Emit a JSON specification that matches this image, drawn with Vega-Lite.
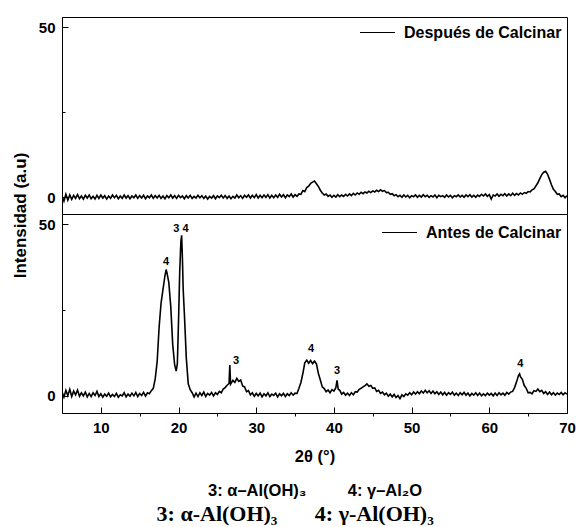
{
"$schema": "https://vega.github.io/schema/vega-lite/v6.json",
"padding": {"left": 10, "top": 13, "right": 5, "bottom": 0},
"bounds": "flush",
"spacing": 0,
"title": {"text": "3: α-Al(OH)₃\u2003\u2002\u20094: γ-Al(OH)₃", "orient": "bottom", "anchor": "middle", "dx": 2, "font": "Liberation Serif", "fontSize": 22, "fontWeight": "bold", "color": "black", "offset": 5},
"datasets": {
"after": [
{"x":5,"y":0.4},{"x":5.25,"y":-1.2},{"x":5.5,"y":0.8},{"x":5.75,"y":-0.9},{"x":6,"y":0.6},{"x":6.25,"y":-0.7},{"x":6.5,"y":0.5},{"x":6.75,"y":-0.4},{"x":7,"y":0.7},{"x":7.25,"y":-0.5},{"x":7.5,"y":0.3},{"x":7.75,"y":-0.6},{"x":8,"y":0.5},{"x":8.25,"y":-0.3},{"x":8.5,"y":0.6},{"x":8.75,"y":-0.5},{"x":9,"y":0.2},{"x":9.25,"y":-0.6},{"x":9.5,"y":0.5},{"x":9.75,"y":-0.4},
{"x":10,"y":0.6},{"x":10.25,"y":-0.3},{"x":10.5,"y":0.4},{"x":10.75,"y":-0.6},{"x":11,"y":0.3},{"x":11.25,"y":-0.4},{"x":11.5,"y":0.6},{"x":11.75,"y":-0.2},{"x":12,"y":0.5},{"x":12.25,"y":-0.5},{"x":12.5,"y":0.3},{"x":12.75,"y":-0.4},{"x":13,"y":0.6},{"x":13.25,"y":-0.3},{"x":13.5,"y":0.4},{"x":13.75,"y":-0.5},{"x":14,"y":0.3},{"x":14.25,"y":-0.2},{"x":14.5,"y":0.6},{"x":14.75,"y":-0.4},
{"x":15,"y":0.4},{"x":15.25,"y":-0.3},{"x":15.5,"y":0.5},{"x":15.75,"y":-0.5},{"x":16,"y":0.3},{"x":16.25,"y":-0.2},{"x":16.5,"y":0.6},{"x":16.75,"y":-0.4},{"x":17,"y":0.4},{"x":17.25,"y":-0.3},{"x":17.5,"y":0.5},{"x":17.75,"y":-0.4},{"x":18,"y":0.3},{"x":18.25,"y":-0.5},{"x":18.5,"y":0.4},{"x":18.75,"y":-0.2},{"x":19,"y":0.6},{"x":19.25,"y":-0.3},{"x":19.5,"y":0.4},{"x":19.75,"y":-0.4},
{"x":20,"y":0.5},{"x":20.25,"y":-0.2},{"x":20.5,"y":0.3},{"x":20.75,"y":-0.5},{"x":21,"y":0.4},{"x":21.25,"y":-0.3},{"x":21.5,"y":0.5},{"x":21.75,"y":-0.4},{"x":22,"y":0.2},{"x":22.25,"y":-0.3},{"x":22.5,"y":0.5},{"x":22.75,"y":-0.2},{"x":23,"y":0.4},{"x":23.25,"y":-0.4},{"x":23.5,"y":0.3},{"x":23.75,"y":-0.6},{"x":24,"y":0.2},{"x":24.25,"y":-0.3},{"x":24.5,"y":0.4},{"x":24.75,"y":-0.5},
{"x":25,"y":0.3},{"x":25.25,"y":-0.2},{"x":25.5,"y":0.5},{"x":25.75,"y":-0.3},{"x":26,"y":0.4},{"x":26.25,"y":-0.4},{"x":26.5,"y":0.3},{"x":26.75,"y":-0.5},{"x":27,"y":0.2},{"x":27.25,"y":-0.3},{"x":27.5,"y":0.6},{"x":27.75,"y":-0.2},{"x":28,"y":0.4},{"x":28.25,"y":-0.4},{"x":28.5,"y":0.5},{"x":28.75,"y":-0.1},{"x":29,"y":0.6},{"x":29.25,"y":-0.3},{"x":29.5,"y":0.5},{"x":29.75,"y":-0.2},
{"x":30,"y":0.7},{"x":30.25,"y":-0.3},{"x":30.5,"y":0.5},{"x":30.75,"y":-0.2},{"x":31,"y":0.6},{"x":31.25,"y":-0.1},{"x":31.5,"y":0.7},{"x":31.75,"y":-0.3},{"x":32,"y":0.5},{"x":32.25,"y":-0.2},{"x":32.5,"y":0.6},{"x":32.75,"y":-0.1},{"x":33,"y":0.8},{"x":33.25,"y":0},{"x":33.5,"y":0.7},{"x":33.75,"y":-0.2},{"x":34,"y":0.6},{"x":34.25,"y":0.1},{"x":34.5,"y":0.9},{"x":34.75,"y":0},
{"x":35,"y":0.7},{"x":35.25,"y":0.2},{"x":35.5,"y":0.9},{"x":35.75,"y":0.8},{"x":36,"y":1.9},{"x":36.25,"y":1.6},{"x":36.5,"y":2.8},{"x":36.75,"y":3.2},{"x":37,"y":4},{"x":37.25,"y":4.4},{"x":37.5,"y":4.7},{"x":37.75,"y":3.9},{"x":38,"y":3.1},{"x":38.25,"y":2},{"x":38.5,"y":1.2},{"x":38.75,"y":0.6},{"x":39,"y":0.9},{"x":39.25,"y":0.2},{"x":39.5,"y":0.6},{"x":39.75,"y":-0.1},
{"x":40,"y":0.5},{"x":40.25,"y":0},{"x":40.5,"y":0.7},{"x":40.75,"y":0.1},{"x":41,"y":0.6},{"x":41.25,"y":0.2},{"x":41.5,"y":0.8},{"x":41.75,"y":0.3},{"x":42,"y":0.9},{"x":42.25,"y":0.4},{"x":42.5,"y":1.1},{"x":42.75,"y":0.6},{"x":43,"y":1.2},{"x":43.25,"y":0.8},{"x":43.5,"y":1.4},{"x":43.75,"y":1},{"x":44,"y":1.5},{"x":44.25,"y":1.2},{"x":44.5,"y":1.7},{"x":44.75,"y":1.3},
{"x":45,"y":1.8},{"x":45.25,"y":1.5},{"x":45.5,"y":2},{"x":45.75,"y":1.6},{"x":46,"y":2.1},{"x":46.25,"y":1.7},{"x":46.5,"y":1.9},{"x":46.75,"y":1.3},{"x":47,"y":1.4},{"x":47.25,"y":0.8},{"x":47.5,"y":1},{"x":47.75,"y":0.4},{"x":48,"y":0.7},{"x":48.25,"y":0.1},{"x":48.5,"y":0.5},{"x":48.75,"y":-0.1},{"x":49,"y":0.6},{"x":49.25,"y":0},{"x":49.5,"y":0.5},{"x":49.75,"y":-0.2},
{"x":50,"y":0.4},{"x":50.25,"y":0.1},{"x":50.5,"y":0.6},{"x":50.75,"y":-0.1},{"x":51,"y":0.5},{"x":51.25,"y":0},{"x":51.5,"y":0.7},{"x":51.75,"y":0.1},{"x":52,"y":0.5},{"x":52.25,"y":-0.1},{"x":52.5,"y":0.4},{"x":52.75,"y":0},{"x":53,"y":0.6},{"x":53.25,"y":-0.2},{"x":53.5,"y":0.5},{"x":53.75,"y":0.1},{"x":54,"y":0.4},{"x":54.25,"y":-0.1},{"x":54.5,"y":0.6},{"x":54.75,"y":0},
{"x":55,"y":0.5},{"x":55.25,"y":-0.2},{"x":55.5,"y":0.4},{"x":55.75,"y":0.1},{"x":56,"y":0.6},{"x":56.25,"y":0},{"x":56.5,"y":0.5},{"x":56.75,"y":-0.1},{"x":57,"y":0.6},{"x":57.25,"y":0.1},{"x":57.5,"y":0.7},{"x":57.75,"y":0},{"x":58,"y":0.5},{"x":58.25,"y":-0.1},{"x":58.5,"y":0.6},{"x":58.75,"y":0.2},{"x":59,"y":0.8},{"x":59.25,"y":0.3},{"x":59.5,"y":0.9},{"x":59.75,"y":0.2},
{"x":60,"y":0.7},{"x":60.25,"y":-0.6},{"x":60.5,"y":0.6},{"x":60.75,"y":0.3},{"x":61,"y":0.9},{"x":61.25,"y":0.2},{"x":61.5,"y":0.8},{"x":61.75,"y":0.4},{"x":62,"y":1},{"x":62.25,"y":0.3},{"x":62.5,"y":0.9},{"x":62.75,"y":0.4},{"x":63,"y":1.1},{"x":63.25,"y":0.5},{"x":63.5,"y":1},{"x":63.75,"y":0.6},{"x":64,"y":1.2},{"x":64.25,"y":0.8},{"x":64.5,"y":1.3},{"x":64.75,"y":1.1},
{"x":65,"y":1.6},{"x":65.25,"y":1.5},{"x":65.5,"y":2.1},{"x":65.75,"y":2.4},{"x":66,"y":3.3},{"x":66.25,"y":4.2},{"x":66.5,"y":5.4},{"x":66.75,"y":6.6},{"x":67,"y":7.3},{"x":67.25,"y":7.6},{"x":67.5,"y":6.7},{"x":67.75,"y":5.2},{"x":68,"y":3.6},{"x":68.25,"y":2.3},{"x":68.5,"y":1.6},{"x":68.75,"y":0.8},{"x":69,"y":0.9},{"x":69.25,"y":0.1},{"x":69.5,"y":0.5},{"x":69.75,"y":-0.2},{"x":70,"y":0.4}
],
"before": [
{"x":5,"y":1.2},{"x":5.25,"y":-0.4},{"x":5.5,"y":1.6},{"x":5.75,"y":0.1},{"x":6,"y":1.9},{"x":6.25,"y":-0.2},{"x":6.5,"y":1.4},{"x":6.75,"y":0.3},{"x":7,"y":1.7},{"x":7.25,"y":-0.1},{"x":7.5,"y":0.9},{"x":7.75,"y":0},{"x":8,"y":1.1},{"x":8.25,"y":-0.3},{"x":8.5,"y":0.7},{"x":8.75,"y":-0.2},{"x":9,"y":0.9},{"x":9.25,"y":0.1},{"x":9.5,"y":1.3},{"x":9.75,"y":-0.2},
{"x":10,"y":0.6},{"x":10.25,"y":-0.4},{"x":10.5,"y":0.5},{"x":10.75,"y":-0.1},{"x":11,"y":0.8},{"x":11.25,"y":-0.3},{"x":11.5,"y":0.4},{"x":11.75,"y":-0.2},{"x":12,"y":0.7},{"x":12.25,"y":-0.4},{"x":12.5,"y":0.3},{"x":12.75,"y":0},{"x":13,"y":0.9},{"x":13.25,"y":-0.3},{"x":13.5,"y":0.5},{"x":13.75,"y":-0.1},{"x":14,"y":0.8},{"x":14.25,"y":0},{"x":14.5,"y":1},{"x":14.75,"y":-0.2},
{"x":15,"y":0.7},{"x":15.25,"y":0.1},{"x":15.5,"y":1},{"x":15.75,"y":-0.1},{"x":16,"y":0.9},{"x":16.25,"y":0.6},{"x":16.5,"y":1.5},{"x":16.75,"y":2.2},{"x":17,"y":5},{"x":17.25,"y":10},{"x":17.5,"y":20},{"x":17.75,"y":27},{"x":18,"y":31},{"x":18.25,"y":35},{"x":18.4,"y":36.8},{"x":18.5,"y":36},{"x":18.75,"y":33},{"x":19,"y":26},{"x":19.25,"y":15},{"x":19.5,"y":9},{"x":19.7,"y":7.2},{"x":19.85,"y":9.5},
{"x":20,"y":22},{"x":20.15,"y":36},{"x":20.3,"y":45},{"x":20.4,"y":46.8},{"x":20.5,"y":40},{"x":20.6,"y":31},{"x":20.75,"y":24},{"x":21,"y":11},{"x":21.25,"y":3.5},{"x":21.5,"y":1.8},{"x":21.75,"y":0.9},{"x":22,"y":-0.3},{"x":22.25,"y":0.8},{"x":22.5,"y":-0.2},{"x":22.75,"y":0.9},{"x":23,"y":0.1},{"x":23.25,"y":1.1},{"x":23.5,"y":-0.2},{"x":23.75,"y":0.7},{"x":24,"y":0.2},{"x":24.25,"y":1},{"x":24.5,"y":0},{"x":24.75,"y":0.9},
{"x":25,"y":0.4},{"x":25.25,"y":1.3},{"x":25.5,"y":0.9},{"x":25.75,"y":2},{"x":26,"y":2.4},{"x":26.25,"y":3.1},{"x":26.5,"y":3.6},{"x":26.6,"y":9},{"x":26.7,"y":3.4},{"x":27,"y":4.5},{"x":27.25,"y":3.9},{"x":27.5,"y":5.1},{"x":27.75,"y":4.2},{"x":28,"y":4.6},{"x":28.25,"y":2.9},{"x":28.5,"y":2.6},{"x":28.75,"y":1.2},{"x":29,"y":1.5},{"x":29.25,"y":0.3},{"x":29.5,"y":0.9},{"x":29.75,"y":-0.1},
{"x":30,"y":0.7},{"x":30.25,"y":0},{"x":30.5,"y":0.8},{"x":30.75,"y":-0.3},{"x":31,"y":0.6},{"x":31.25,"y":0},{"x":31.5,"y":0.9},{"x":31.75,"y":-0.2},{"x":32,"y":0.5},{"x":32.25,"y":0.1},{"x":32.5,"y":0.8},{"x":32.75,"y":-0.3},{"x":33,"y":0.6},{"x":33.25,"y":0},{"x":33.5,"y":0.7},{"x":33.75,"y":-0.2},{"x":34,"y":0.6},{"x":34.25,"y":0.1},{"x":34.5,"y":0.9},{"x":34.75,"y":0.2},
{"x":35,"y":0.8},{"x":35.25,"y":0.7},{"x":35.5,"y":2.2},{"x":35.75,"y":3.9},{"x":36,"y":6.5},{"x":36.25,"y":9.6},{"x":36.5,"y":10.4},{"x":36.75,"y":9.5},{"x":37,"y":10.3},{"x":37.25,"y":9.4},{"x":37.5,"y":10.1},{"x":37.75,"y":9.3},{"x":38,"y":6.5},{"x":38.25,"y":4.6},{"x":38.5,"y":2.6},{"x":38.75,"y":2.1},{"x":39,"y":1.2},{"x":39.25,"y":1.7},{"x":39.5,"y":0.9},{"x":39.75,"y":1.8},
{"x":40,"y":1.4},{"x":40.25,"y":2.4},{"x":40.4,"y":4.5},{"x":40.55,"y":2},{"x":40.75,"y":1.6},{"x":41,"y":0.5},{"x":41.25,"y":1},{"x":41.5,"y":0.2},{"x":41.75,"y":0.8},{"x":42,"y":0.1},{"x":42.25,"y":0.9},{"x":42.5,"y":0.3},{"x":42.75,"y":1.2},{"x":43,"y":1.1},{"x":43.25,"y":1.9},{"x":43.5,"y":2.2},{"x":43.75,"y":2.6},{"x":44,"y":3},{"x":44.25,"y":3.5},{"x":44.5,"y":2.8},{"x":44.75,"y":3},
{"x":45,"y":2.2},{"x":45.25,"y":2.3},{"x":45.5,"y":1.3},{"x":45.75,"y":1.6},{"x":46,"y":0.7},{"x":46.25,"y":1.1},{"x":46.5,"y":0.3},{"x":46.75,"y":0.8},{"x":47,"y":-0.1},{"x":47.25,"y":0.5},{"x":47.5,"y":-0.3},{"x":47.75,"y":0.4},{"x":48,"y":-0.5},{"x":48.25,"y":0.1},{"x":48.5,"y":-0.8},{"x":48.75,"y":0.3},{"x":49,"y":-0.2},{"x":49.25,"y":0.6},{"x":49.5,"y":0.2},{"x":49.75,"y":0.9},
{"x":50,"y":0.3},{"x":50.25,"y":1.1},{"x":50.5,"y":0.5},{"x":50.75,"y":1.2},{"x":51,"y":0.6},{"x":51.25,"y":1.4},{"x":51.5,"y":0.8},{"x":51.75,"y":1.6},{"x":52,"y":0.9},{"x":52.25,"y":1.5},{"x":52.5,"y":0.7},{"x":52.75,"y":1.4},{"x":53,"y":0.6},{"x":53.25,"y":1.2},{"x":53.5,"y":0.4},{"x":53.75,"y":1.1},{"x":54,"y":0.3},{"x":54.25,"y":1},{"x":54.5,"y":0.2},{"x":54.75,"y":0.9},
{"x":55,"y":0.4},{"x":55.25,"y":1.1},{"x":55.5,"y":0.2},{"x":55.75,"y":0.8},{"x":56,"y":0.1},{"x":56.25,"y":0.9},{"x":56.5,"y":0.3},{"x":56.75,"y":1},{"x":57,"y":0.2},{"x":57.25,"y":0.8},{"x":57.5,"y":0},{"x":57.75,"y":0.7},{"x":58,"y":0.2},{"x":58.25,"y":0.9},{"x":58.5,"y":0.1},{"x":58.75,"y":0.8},{"x":59,"y":0},{"x":59.25,"y":0.6},{"x":59.5,"y":0.1},{"x":59.75,"y":0.8},
{"x":60,"y":0.2},{"x":60.25,"y":0.7},{"x":60.5,"y":0},{"x":60.75,"y":0.8},{"x":61,"y":0.1},{"x":61.25,"y":0.9},{"x":61.5,"y":0.3},{"x":61.75,"y":0.8},{"x":62,"y":0.2},{"x":62.25,"y":1},{"x":62.5,"y":0.5},{"x":62.75,"y":1.1},{"x":63,"y":1.3},{"x":63.25,"y":2.4},{"x":63.5,"y":4},{"x":63.75,"y":5.9},{"x":63.9,"y":6.4},{"x":64,"y":5.6},{"x":64.25,"y":4.8},{"x":64.5,"y":3},{"x":64.75,"y":2.2},
{"x":65,"y":0.9},{"x":65.25,"y":1},{"x":65.5,"y":0.6},{"x":65.75,"y":1.5},{"x":66,"y":1.3},{"x":66.25,"y":2},{"x":66.5,"y":1.2},{"x":66.75,"y":1.6},{"x":67,"y":0.7},{"x":67.25,"y":1.2},{"x":67.5,"y":0.4},{"x":67.75,"y":1.1},{"x":68,"y":0.3},{"x":68.25,"y":0.9},{"x":68.5,"y":0.2},{"x":68.75,"y":0.8},{"x":69,"y":0.4},{"x":69.25,"y":1},{"x":69.5,"y":0.3},{"x":69.75,"y":0.9},{"x":70,"y":0.5}
],
"peaks": [
{"x":18.4,"y":39,"t":"4"},{"x":20.3,"y":48.5,"t":"3 4"},{"x":27.4,"y":10.2,"t":"3"},{"x":37.05,"y":13.6,"t":"4"},{"x":40.4,"y":7.3,"t":"3"},{"x":63.98,"y":9.3,"t":"4"}
]
},
"vconcat": [
{
"width": 505, "height": 197,
"data": {"name": "after"},
"mark": {"type": "line", "strokeWidth": 1.6, "clip": true},
"encoding": {
"x": {"field": "x", "type": "quantitative", "scale": {"domain": [5, 70], "nice": false, "zero": false}, "axis": null},
"y": {"field": "y", "type": "quantitative", "scale": {"domain": [-5, 53], "nice": false, "zero": false},
"axis": {"values": [0, 25, 50], "labelExpr": "datum.value === 25 ? '' : datum.label", "title": "Intensidad (a.u)", "titleOpacity": 0,
"tickSize": {"condition": {"test": "datum.value === 25", "value": -3}, "value": -6}, "labelPadding": 13}},
"color": {"datum": "Después de Calcinar", "type": "nominal", "scale": {"range": ["black"]},
"legend": {"title": null, "orient": "none", "legendX": 297, "legendY": -3, "symbolType": "stroke", "symbolSize": 1225, "symbolStrokeWidth": 1.2, "labelFontSize": 16, "labelFontWeight": "bold", "labelFont": "Liberation Sans", "labelColor": "black", "labelOffset": 8, "padding": 0}}
}
},
{
"width": 505, "height": 199,
"layer": [
{
"data": {"name": "before"},
"mark": {"type": "line", "strokeWidth": 1.6, "clip": true},
"encoding": {
"x": {"field": "x", "type": "quantitative", "scale": {"domain": [5, 70], "nice": false, "zero": false},
"axis": {"values": [10, 15, 20, 25, 30, 35, 40, 45, 50, 55, 60, 65, 70], "labelExpr": "datum.value % 10 === 0 ? datum.label : ''", "labelFlush": false, "labelOverlap": false,
"tickSize": {"condition": {"test": "datum.value % 10 === 0", "value": -6}, "value": 3}, "labelPadding": 13,
"title": ["2θ (°)", "3: α–Al(OH)₃\u2003\u2003\u20024: γ–Al₂O"], "titleFontSize": 16.5, "titleLineHeight": 34, "titlePadding": 4}},
"y": {"field": "y", "type": "quantitative", "scale": {"domain": [-5, 53], "nice": false, "zero": false},
"axis": {"values": [0, 25, 50], "labelExpr": "datum.value === 25 ? '' : datum.label", "title": "Intensidad (a.u)", "titleFontSize": 17, "titleY": 1, "titleX": -33,
"tickSize": {"condition": {"test": "datum.value === 25", "value": -3}, "value": -6}, "labelPadding": 13}},
"color": {"datum": "Antes de Calcinar", "type": "nominal", "scale": {"range": ["black"]},
"legend": {"title": null, "orient": "none", "legendX": 319, "legendY": 0, "symbolType": "stroke", "symbolSize": 1225, "symbolStrokeWidth": 1.2, "labelFontSize": 16, "labelFontWeight": "bold", "labelFont": "Liberation Sans", "labelColor": "black", "labelOffset": 8, "padding": 0}}
}
},
{
"data": {"name": "peaks"},
"mark": {"type": "text", "fontSize": 11, "fontWeight": "bold", "font": "Liberation Sans", "color": "black", "baseline": "middle"},
"encoding": {
"x": {"field": "x", "type": "quantitative"},
"y": {"field": "y", "type": "quantitative"},
"text": {"field": "t"}
}
}
]
}
],
"resolve": {"scale": {"color": "independent"}, "legend": {"color": "independent"}},
"config": {
"font": "Liberation Sans",
"view": {"stroke": "black", "strokeWidth": 1},
"axis": {"domainColor": "black", "tickColor": "black", "labelColor": "black", "titleColor": "black", "labelFont": "Liberation Sans", "labelFontSize": 15, "labelFontWeight": "bold", "titleFont": "Liberation Sans", "titleFontWeight": "bold", "grid": false, "tickWidth": 1}
}
}
